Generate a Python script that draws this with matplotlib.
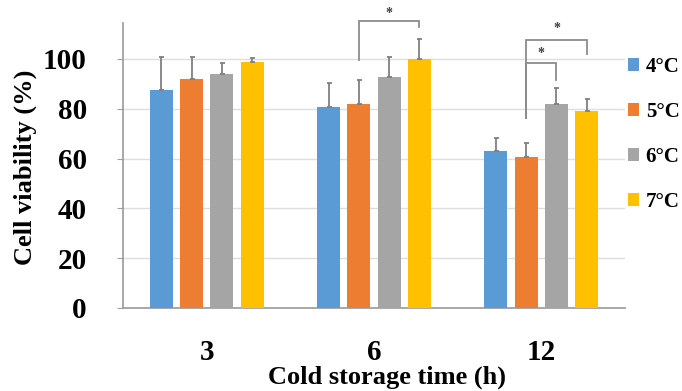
import matplotlib
matplotlib.use("Agg")
import matplotlib.pyplot as plt
import numpy as np

# ---- data ----
times = ["3", "6", "12"]
temps = ["4\u00b0C", "5\u00b0C", "6\u00b0C", "7\u00b0C"]
means = {
    "4\u00b0C": [87.6, 80.7, 62.9],
    "5\u00b0C": [92.1, 82.0, 60.7],
    "6\u00b0C": [94.0, 92.7, 81.9],
    "7\u00b0C": [98.8, 99.9, 78.9],
}
errs = {
    "4\u00b0C": [13.1, 9.6, 5.4],
    "5\u00b0C": [8.6, 9.6, 5.6],
    "6\u00b0C": [4.3, 8.0, 6.4],
    "7\u00b0C": [1.6, 8.0, 5.0],
}
colors = ["#5B9BD5", "#ED7D31", "#A5A5A5", "#FFC000"]
yticks = [0, 20, 40, 60, 80, 100]

# significance brackets: (group index, bar i, bar j, top, left-leg bottom, right-leg bottom, star y)
brackets = [
    (1, 1, 3, 115.2, 99.6, 112.8, 118.4),
    (2, 1, 3, 107.6, 76.4, 102.0, 112.3),
    (2, 1, 2, 98.5, 76.4, 91.6, 102.3),
]

# ---- figure ----
serif = ["Liberation Serif", "DejaVu Serif"]
fig = plt.figure(figsize=(6.82, 3.91), dpi=100)
ax = fig.add_axes([123 / 682, 1 - 308 / 391, 502 / 682, 285 / 391])

x = np.arange(len(times))
step = 0.181
width = 0.138
offsets = [(i - 1.5) * step for i in range(len(temps))]
for i, t in enumerate(temps):
    ax.bar(x + offsets[i], means[t], width=width, color=colors[i], label=t, zorder=3)
    ax.errorbar(x + offsets[i], means[t], yerr=[np.zeros(len(times)), errs[t]],
                fmt="none", ecolor="#808080", elinewidth=1.3, capsize=1.8,
                capthick=1.3, zorder=4)

for g, i, j, top, lb, rb, sy in brackets:
    xl = x[g] + offsets[i]
    xr = x[g] + offsets[j]
    ax.plot([xl, xl, xr, xr], [lb, top, top, rb], color="#8c8c8c", lw=1.3,
            clip_on=False, zorder=5, solid_joinstyle="miter")
    ax.text((xl + xr) / 2, sy, "*", ha="center", va="center", fontsize=10,
            color="#404040", family=serif, fontweight="bold", clip_on=False)

ax.set_xlim(-0.5, 2.5)
ax.set_ylim(0, 114.4)
ax.set_yticks(yticks)
ax.set_yticklabels([str(v) for v in yticks], family=serif, fontweight="bold", fontsize=21)
ax.set_xticks(x)
ax.set_xticklabels(times, family=serif, fontweight="bold", fontsize=21)
ax.tick_params(axis="x", length=0, pad=22)
ax.tick_params(axis="y", length=4, color="#a0a0a0", pad=22)
ax.yaxis.grid(True, color="#dedede", lw=1, zorder=0)
ax.set_axisbelow(True)
for s in ["top", "right"]:
    ax.spines[s].set_visible(False)
for s in ["left", "bottom"]:
    ax.spines[s].set_color("#9a9a9a")
    ax.spines[s].set_linewidth(1.2)

fig.text(25 / 682, 1 - 167.5 / 391, "Cell viability (%)", rotation=90, ha="center",
         va="center", family=serif, fontweight="bold", fontsize=19)
fig.text(387 / 682, 2 / 391, "Cold storage time (h)", ha="center", va="bottom",
         family=serif, fontweight="bold", fontsize=19)

leg = ax.legend(loc="center left", bbox_to_anchor=(628 / 682, 1 - 134.5 / 391),
                bbox_transform=fig.transFigure, frameon=False, borderpad=0,
                borderaxespad=0, handlelength=0.55, handleheight=0.55,
                handletextpad=0.3, labelspacing=1.2,
                prop={"family": serif, "weight": "bold", "size": 15})

fig.savefig("out.png", dpi=100)
